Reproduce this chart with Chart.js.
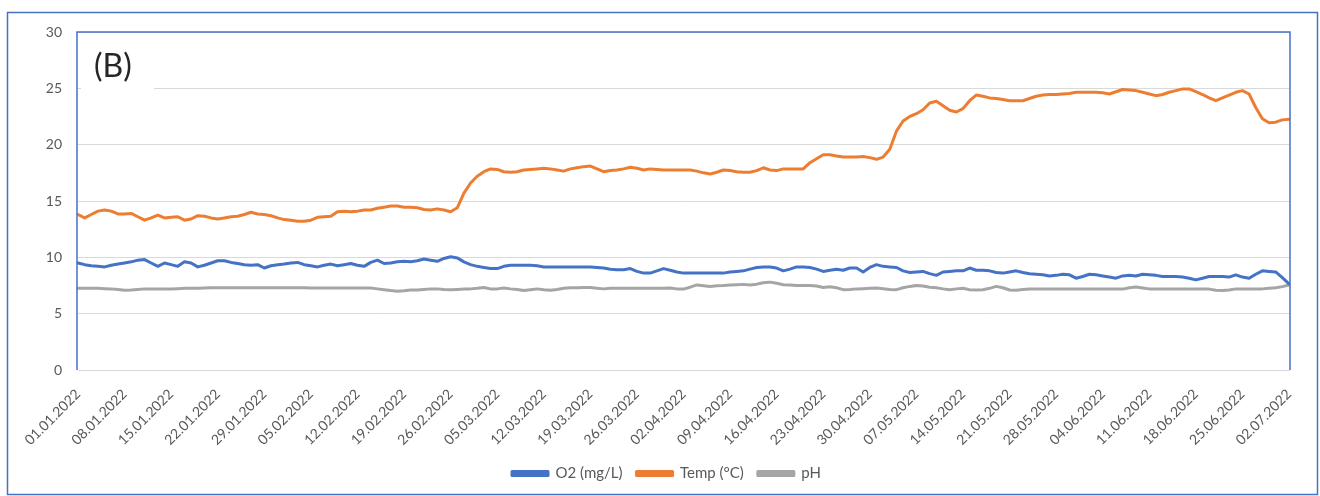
<!DOCTYPE html>
<html>
<head>
<meta charset="utf-8">
<script src="https://cdn.jsdelivr.net/npm/chart.js@4.4.0/dist/chart.umd.min.js"></script>
<style>
  html, body { margin: 0; padding: 0; background: #ffffff; }
  #wrap { width: 1320px; height: 496px; }
</style>
</head>
<body>
<div id="wrap"><canvas id="waterChart" width="1320" height="496"></canvas></div>
<script>
// daily values, 01.01.2022 - 02.07.2022 (one row = one week)
const o2 = [
  9.5, 9.35, 9.25, 9.2, 9.15, 9.3, 9.4,
  9.5, 9.6, 9.75, 9.8, 9.5, 9.2, 9.5,
  9.35, 9.2, 9.6, 9.5, 9.15, 9.3, 9.5,
  9.7, 9.7, 9.55, 9.45, 9.35, 9.3, 9.35,
  9.05, 9.25, 9.35, 9.4, 9.5, 9.55, 9.35,
  9.25, 9.15, 9.3, 9.4, 9.25, 9.35, 9.45,
  9.3, 9.2, 9.55, 9.75, 9.45, 9.5, 9.6,
  9.65, 9.6, 9.7, 9.85, 9.75, 9.65, 9.9,
  10.05, 9.95, 9.6, 9.35, 9.2, 9.1, 9.0,
  9.0, 9.2, 9.3, 9.3, 9.3, 9.3, 9.25,
  9.15, 9.15, 9.15, 9.15, 9.15, 9.15, 9.15,
  9.15, 9.1, 9.05, 8.95, 8.9, 8.9, 9.0,
  8.75, 8.6, 8.6, 8.8, 9.0, 8.85, 8.7,
  8.6, 8.6, 8.6, 8.6, 8.6, 8.6, 8.6,
  8.7, 8.75, 8.8, 8.95, 9.1, 9.15, 9.15,
  9.05, 8.8, 8.95, 9.15, 9.15, 9.1, 8.95,
  8.75, 8.85, 8.95, 8.85, 9.05, 9.05, 8.7,
  9.1, 9.35, 9.2, 9.15, 9.1, 8.8, 8.65,
  8.7, 8.75, 8.55, 8.4, 8.7, 8.75, 8.8,
  8.8, 9.05, 8.85, 8.85, 8.8, 8.65, 8.6,
  8.7, 8.8, 8.65, 8.55, 8.5, 8.45, 8.35,
  8.4, 8.5, 8.45, 8.15, 8.3, 8.5, 8.45,
  8.35, 8.25, 8.15, 8.35, 8.4, 8.35, 8.5,
  8.45, 8.4, 8.3, 8.3, 8.3, 8.25, 8.15,
  8.0, 8.15, 8.3, 8.3, 8.3, 8.25, 8.45,
  8.25, 8.15, 8.5, 8.8, 8.75, 8.7, 8.2,
  7.65
];

const temp = [
  13.8, 13.5, 13.8, 14.1, 14.2, 14.1, 13.85,
  13.85, 13.9, 13.6, 13.3, 13.5, 13.75, 13.5,
  13.55, 13.6, 13.3, 13.4, 13.7, 13.65, 13.5,
  13.4, 13.5, 13.6, 13.65, 13.8, 14.0, 13.85,
  13.8, 13.7, 13.5, 13.35, 13.3, 13.2, 13.2,
  13.3, 13.55, 13.6, 13.65, 14.05, 14.1, 14.05,
  14.1, 14.2, 14.2, 14.35, 14.45, 14.55, 14.55,
  14.45, 14.45, 14.4, 14.25, 14.2, 14.3, 14.2,
  14.05, 14.4, 15.7, 16.6, 17.2, 17.6, 17.85,
  17.8, 17.6, 17.55, 17.6, 17.75, 17.8, 17.85,
  17.9, 17.85, 17.75, 17.65, 17.85, 17.95, 18.05,
  18.1, 17.85, 17.6, 17.7, 17.75, 17.85, 18.0,
  17.9, 17.75, 17.85, 17.8, 17.75, 17.75, 17.75,
  17.75, 17.75, 17.65, 17.5, 17.4, 17.55, 17.75,
  17.7, 17.6, 17.55, 17.55, 17.7, 17.95, 17.75,
  17.7, 17.85, 17.85, 17.85, 17.85, 18.4, 18.75,
  19.1, 19.1, 19.0, 18.9, 18.9, 18.9, 18.95,
  18.85, 18.7, 18.9, 19.6, 21.2, 22.1, 22.5,
  22.75, 23.1, 23.7, 23.85, 23.45, 23.05, 22.9,
  23.2, 23.9, 24.4, 24.3, 24.15, 24.1, 24.0,
  23.9, 23.9, 23.9, 24.1, 24.3, 24.4, 24.45,
  24.45, 24.5, 24.55, 24.65, 24.65, 24.65, 24.65,
  24.6, 24.5, 24.7, 24.9, 24.85, 24.8, 24.65,
  24.5, 24.35, 24.45, 24.65, 24.8, 24.95, 24.95,
  24.7, 24.45, 24.15, 23.9, 24.15, 24.4, 24.65,
  24.8, 24.5, 23.3, 22.3, 21.95, 22.0, 22.2,
  22.25
];

const ph = [
  7.25, 7.25, 7.25, 7.25, 7.22, 7.2, 7.15,
  7.08, 7.1, 7.15, 7.2, 7.2, 7.2, 7.2,
  7.2, 7.22, 7.25, 7.25, 7.25, 7.28, 7.3,
  7.3, 7.3, 7.3, 7.3, 7.3, 7.3, 7.3,
  7.3, 7.3, 7.3, 7.3, 7.3, 7.3, 7.3,
  7.28, 7.28, 7.28, 7.28, 7.28, 7.28, 7.28,
  7.28, 7.28, 7.28, 7.2, 7.13, 7.05, 7.0,
  7.03, 7.1, 7.1, 7.15, 7.2, 7.2, 7.15,
  7.13, 7.15, 7.18, 7.2, 7.25, 7.33, 7.2,
  7.2, 7.28, 7.2, 7.15, 7.05, 7.12, 7.2,
  7.12, 7.07, 7.15, 7.25, 7.3, 7.3, 7.33,
  7.33, 7.25, 7.2, 7.25, 7.25, 7.25, 7.25,
  7.25, 7.25, 7.25, 7.25, 7.25, 7.28, 7.2,
  7.18, 7.35, 7.55, 7.48, 7.42, 7.47, 7.5,
  7.55, 7.57, 7.6, 7.55, 7.62, 7.75, 7.8,
  7.7, 7.57, 7.55, 7.5, 7.5, 7.5, 7.45,
  7.33, 7.38, 7.3, 7.13, 7.15, 7.2, 7.22,
  7.25, 7.28, 7.22, 7.15, 7.13, 7.3, 7.42,
  7.5, 7.45, 7.35, 7.3, 7.2, 7.13, 7.2,
  7.25, 7.13, 7.1, 7.13, 7.25, 7.42, 7.3,
  7.1, 7.07, 7.15, 7.18, 7.18, 7.18, 7.18,
  7.18, 7.18, 7.18, 7.18, 7.18, 7.18, 7.18,
  7.18, 7.18, 7.18, 7.18, 7.3, 7.37, 7.28,
  7.2, 7.18, 7.18, 7.18, 7.18, 7.18, 7.18,
  7.18, 7.18, 7.18, 7.08, 7.05, 7.1, 7.2,
  7.2, 7.2, 7.2, 7.2, 7.25, 7.3, 7.4,
  7.55
];

// one category per day
const days = [];
for (let d = new Date(2022, 0, 1); days.length < o2.length; d.setDate(d.getDate() + 1)) {
  const dd = String(d.getDate()).padStart(2, '0');
  const mm = String(d.getMonth() + 1).padStart(2, '0');
  days.push(dd + '.' + mm + '.' + d.getFullYear());
}

const frame = {
  id: 'frame',
  beforeDraw(chart) {
    const c = chart.ctx;
    c.save();
    c.fillStyle = '#ffffff';
    c.fillRect(0, 0, chart.width, chart.height);
    c.strokeStyle = '#4472c4';
    c.lineWidth = 1.5;
    c.strokeRect(7.5, 12.5, 1310, 482);
    c.restore();
  },
  beforeDatasetsDraw(chart) {
    const c = chart.ctx;
    const a = chart.chartArea;
    c.save();
    c.fillStyle = '#ffffff';
    c.fillRect(a.left + 3, a.top + 8, 73, 56);
    c.fillStyle = '#262626';
    c.font = '32px Lato';
    c.textBaseline = 'alphabetic';
    c.fillText('(B)', a.left + 16, a.top + 45);
    c.restore();
  },
  afterDatasetsDraw(chart) {
    const c = chart.ctx;
    const a = chart.chartArea;
    c.save();
    c.strokeStyle = '#4472c4';
    c.lineWidth = 1.5;
    c.beginPath();
    c.moveTo(a.left - 1, a.bottom);
    c.lineTo(a.left - 1, a.top);
    c.lineTo(a.right + 1, a.top);
    c.lineTo(a.right + 1, a.bottom);
    c.stroke();
    c.restore();
  }
};

const ctx = document.getElementById('waterChart').getContext('2d');
new Chart(ctx, {
  type: 'line',
  data: {
    labels: days,
    datasets: [{
      label: 'O2 (mg/L)',
      data: o2,
      borderColor: '#4472c4',
      backgroundColor: '#4472c4'
    }, {
      label: 'Temp (°C)',
      data: temp,
      borderColor: '#ed7d31',
      backgroundColor: '#ed7d31'
    }, {
      label: 'pH',
      data: ph,
      borderColor: '#a5a5a5',
      backgroundColor: '#a5a5a5'
    }]
  },
  options: {
    responsive: false,
    animation: false,
    layout: { padding: { left: 44, right: 31, top: 32, bottom: 5 } },
    elements: {
      line: { borderWidth: 3, tension: 0, borderCapStyle: 'round', borderJoinStyle: 'round' },
      point: { radius: 0, hoverRadius: 0 }
    },
    plugins: {
      tooltip: { enabled: false },
      legend: {
        position: 'bottom',
        labels: {
          boxWidth: 36,
          boxHeight: 4,
          padding: 14,
          color: '#595959',
          font: { family: 'Lato', size: 15 }
        }
      }
    },
    scales: {
      x: {
        grid: { display: false },
        border: { color: '#d9d9d9', width: 1 },
        ticks: {
          autoSkip: false,
          minRotation: 45,
          maxRotation: 45,
          padding: 8,
          color: '#595959',
          font: { family: 'Lato', size: 14 },
          callback: function (val, i) {
            return i % 7 === 0 ? this.getLabelForValue(val) : null;
          }
        },
        afterFit: (s) => { s.height = 82; }
      },
      y: {
        min: 0,
        max: 30,
        grid: { color: '#d9d9d9', drawTicks: false },
        border: { display: false },
        ticks: {
          stepSize: 5,
          padding: 16,
          color: '#595959',
          font: { family: 'Lato', size: 14 }
        },
        afterFit: (s) => { s.width = 34; }
      }
    }
  },
  plugins: [frame]
});
</script>
</body>
</html>
